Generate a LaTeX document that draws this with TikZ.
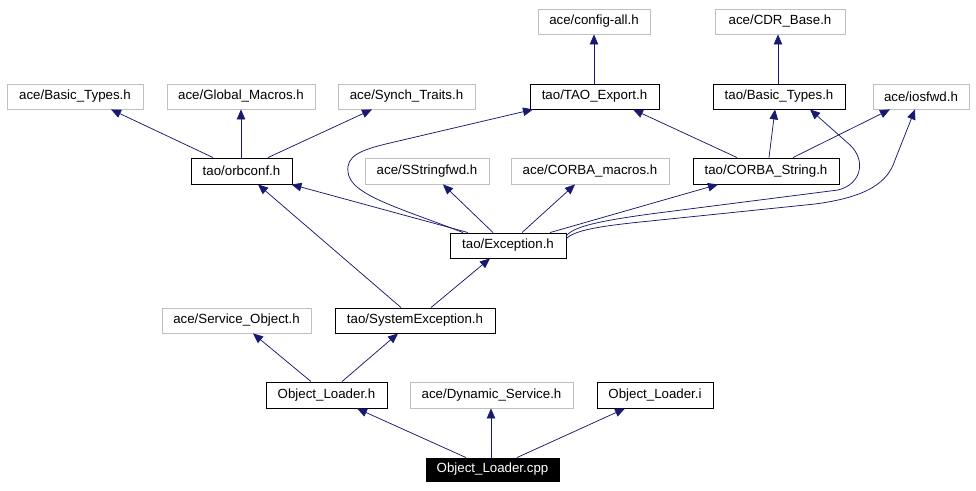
\documentclass[tikz,border=0pt]{standalone}
\usepackage{fontspec}
\setmainfont{Liberation Sans}
\usetikzlibrary{arrows.meta}
\definecolor{edgec}{HTML}{191970}
\definecolor{grayb}{HTML}{BFBFBF}
\tikzset{
  base/.style={rectangle, inner sep=0pt, minimum height=25pt, font=\fontsize{13.3}{15}\selectfont, line width=0.9pt},
  ext/.style={base, draw=grayb},
  doc/.style={base, draw=black},
  root/.style={base, draw=black, fill=black, text=white},
  dep/.style={draw=edgec, line width=0.75pt, -{Triangle[length=10pt,width=8.5pt]}},
}
\begin{document}
\begin{tikzpicture}[x=1pt,y=-1pt]
\useasboundingbox (0,0) rectangle (976,490);
% row 1
\node[ext, minimum width=112pt] (cfgall) at (594,21.5) {ace/config-all.h};
\node[ext, minimum width=130pt] (cdr) at (780,21.5) {ace/CDR\_Base.h};
% row 2
\node[ext, minimum width=136pt] (acebt) at (75,96.5) {ace/Basic\_Types.h};
\node[ext, minimum width=148pt] (glob) at (241,96.5) {ace/Global\_Macros.h};
\node[ext, minimum width=137pt] (synch) at (406.5,96.5) {ace/Synch\_Traits.h};
\node[doc, minimum width=129pt] (taoexp) at (594.5,96.5) {tao/TAO\_Export.h};
\node[doc, minimum width=132pt] (taobt) at (779,96.5) {tao/Basic\_Types.h};
\node[ext, minimum width=96pt] (iosfwd) at (921,96.5) {ace/iosfwd.h};
% row 3
\node[doc, minimum width=101pt, minimum height=26pt] (orbconf) at (241.5,171) {tao/orbconf.h};
\node[ext, minimum width=124pt, minimum height=26pt] (sstr) at (427,171) {ace/SStringfwd.h};
\node[ext, minimum width=158pt, minimum height=26pt] (corbam) at (590,171) {ace/CORBA\_macros.h};
\node[doc, minimum width=146pt, minimum height=26pt] (corbas) at (766,171) {tao/CORBA\_String.h};
% row 4
\node[doc, minimum width=116pt] (exc) at (508,245.5) {tao/Exception.h};
% row 5
\node[ext, minimum width=149pt] (svcobj) at (236.5,320.5) {ace/Service\_Object.h};
\node[doc, minimum width=160pt] (sysexc) at (415,320.5) {tao/SystemException.h};
% row 6
\node[doc, minimum width=121pt, minimum height=26pt] (olh) at (326.5,395) {Object\_Loader.h};
\node[ext, minimum width=163pt, minimum height=26pt] (dyn) at (491.5,395) {ace/Dynamic\_Service.h};
\node[doc, minimum width=116pt, minimum height=26pt] (oli) at (655,395) {Object\_Loader.i};
% row 7
\node[root, minimum width=133pt, minimum height=23pt] (cpp) at (492.5,469.5) {Object\_Loader.cpp};

% edges
\draw[dep] ([xshift=-26.5pt]cpp.north) -- ([xshift=30.5pt]olh.south);
\draw[dep] ([xshift=-1.5pt]cpp.north) -- ([xshift=-0.5pt]dyn.south);
\draw[dep] ([xshift=24.5pt]cpp.north) -- ([xshift=-30pt]oli.south);
\draw[dep] ([xshift=-15.5pt]olh.north) -- ([xshift=16.5pt]svcobj.south);
\draw[dep] ([xshift=15.5pt]olh.north) -- ([xshift=-17pt]sysexc.south);
\draw[dep] ([xshift=16pt]sysexc.north) -- ([xshift=-18pt]exc.south);
\draw[dep] ([xshift=-14pt]sysexc.north) -- ([xshift=16.5pt]orbconf.south);
\draw[dep] ([xshift=-40pt]exc.north) -- ([xshift=-1pt]orbconf.south east);
\draw[dep] ([xshift=-45pt]exc.north) .. controls (400,208) and (350,195) .. (348,172)
   .. controls (346,156) and (360,150) .. (390,143) -- ([xshift=-61.5pt]taoexp.south);
\draw[dep] ([xshift=-15pt]exc.north) -- ([xshift=16pt]sstr.south);
\draw[dep] ([xshift=14pt]exc.north) -- ([xshift=-15pt]corbam.south);
\draw[dep] ([xshift=42pt]exc.north) -- ([xshift=-48pt]corbas.south);
\draw[dep] ([yshift=-3pt]exc.north east) .. controls (575,226) and (600,221) .. (650,214)
   -- (838,190) .. controls (862,184) and (866,160) .. (850,145) -- ([xshift=31pt]taobt.south);
\draw[dep] ([yshift=-6pt]exc.north east) .. controls (575,230) and (600,226) .. (650,221)
   -- (815,204) .. controls (868,197) and (888,182) .. (895,160) -- ([xshift=-6pt]iosfwd.south);
\draw[dep] ([xshift=-29pt]corbas.north) -- ([xshift=38.5pt]taoexp.south);
\draw[dep] ([xshift=3pt]corbas.north) -- ([xshift=-4pt]taobt.south);
\draw[dep] ([xshift=27pt]corbas.north) -- ([xshift=-31pt]iosfwd.south);
\draw[dep] ([xshift=-0.5pt]taoexp.north) -- (cfgall.south);
\draw[dep] ([xshift=-1pt]taobt.north) -- ([xshift=-2pt]cdr.south);
\draw[dep] ([xshift=-28.5pt]orbconf.north) -- ([xshift=36pt]acebt.south);
\draw[dep] ([xshift=-0.5pt]orbconf.north) -- (glob.south);
\draw[dep] ([xshift=26.5pt]orbconf.north) -- ([xshift=-34.5pt]synch.south);
\end{tikzpicture}
\end{document}
